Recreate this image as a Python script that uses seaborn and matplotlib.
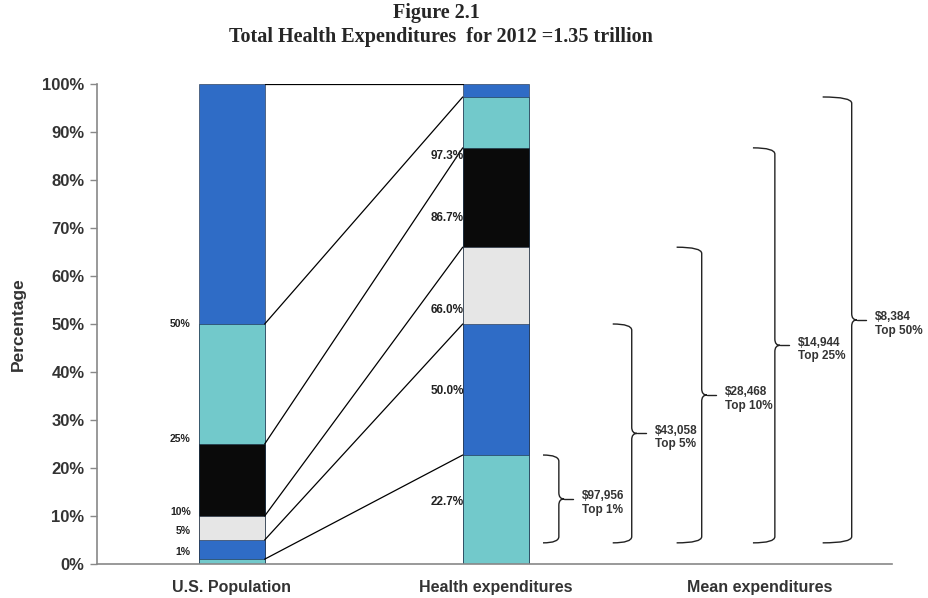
import matplotlib
matplotlib.use("Agg")
import matplotlib.pyplot as plt
from matplotlib.path import Path
from matplotlib.patches import PathPatch
import pandas as pd
import seaborn as sns

sns.set_style("white")
plt.rcParams['font.family'] = ['Liberation Sans', 'DejaVu Sans']

# Data
categories = ["U.S. Population", "Health expenditures", "Mean expenditures"]
# cumulative tops of each layer, drawn from the largest down
pop_levels = [100, 50, 25, 10, 5, 1]
health_levels = [100, 97.3, 86.7, 66.0, 50.0, 22.7]
layer_colors = ["#2f6cc6", "#72c9cb", "#0a0a0a", "#e6e6e6", "#2f6cc6", "#72c9cb"]

pop_labels = ["50%", "25%", "10%", "5%", "1%"]
health_labels = ["97.3%", "86.7%", "66.0%", "50.0%", "22.7%"]

mean_values = ["$97,956", "$43,058", "$28,468", "$14,944", "$8,384"]
top_groups = ["Top 1%", "Top 5%", "Top 10%", "Top 25%", "Top 50%"]
brace_tops = [22.7, 50.0, 66.0, 86.7, 97.3]
brace_bottom = 4.4

# layout
bar_w = 0.25
pop_label_y = [50, 26, 10.8, 6.9, 2.5]
health_label_y = [85, 72, 53, 36, 13]
brace_x = [1.239, 1.515, 1.78, 2.057, 2.348]
hook_w = [0.06, 0.072, 0.095, 0.083, 0.11]

fig = plt.figure(figsize=(9.29, 5.98), dpi=100)
ax = fig.add_axes([0.1044, 0.0569, 0.8556, 0.8026])

for i, col in enumerate(layer_colors):
    df = pd.DataFrame({"cat": categories[:2], "val": [pop_levels[i], health_levels[i]]})
    sns.barplot(data=df, x="cat", y="val", order=categories, color=col,
                width=bar_w, saturation=1, edgecolor="#1a2a40", linewidth=0.4, ax=ax)

# connectors between the two bars
x0 = 0 + bar_w / 2
x1 = 1 - bar_w / 2
for p, h in zip(pop_levels, health_levels):
    ax.plot([x0, x1], [p, h], color="black", lw=0.9)

for lab, y in zip(pop_labels, pop_label_y):
    ax.text(-0.155, y, lab, ha="right", va="center", fontsize=7.5,
            fontweight="bold", color="#222222")
for lab, y in zip(health_labels, health_label_y):
    ax.text(x1 + 0.005, y, lab, ha="right", va="center", fontsize=8.5,
            fontweight="bold", color="#222222")

# curly braces for mean expenditures
r = 1.3
tip = 0.055
for xv, hw, top, val, grp in zip(brace_x, hook_w, brace_tops, mean_values, top_groups):
    b = brace_bottom
    m = (top + b) / 2
    verts = [(xv - hw, top), (xv, top), (xv, top - r),
             (xv, m + r), (xv, m), (xv + 0.02, m),
             (xv, m), (xv, m - r),
             (xv, b + r), (xv, b), (xv - hw, b)]
    codes = [Path.MOVETO, Path.CURVE3, Path.CURVE3,
             Path.LINETO, Path.CURVE3, Path.CURVE3,
             Path.CURVE3, Path.CURVE3,
             Path.LINETO, Path.CURVE3, Path.CURVE3]
    ax.add_patch(PathPatch(Path(verts, codes), fill=False, lw=1.0, edgecolor="#222222"))
    ax.plot([xv + 0.02, xv + tip], [m, m], color="#222222", lw=1.0)
    ax.text(xv + 0.088, m + 1.8, f"{val}\n{grp}", ha="left", va="top",
            fontsize=8.5, fontweight="bold", color="#333333", linespacing=1.15)

ax.set_xlim(-0.51, 2.5)
ax.set_ylim(0, 100)
ax.set_yticks(range(0, 101, 10))
ax.set_yticklabels([f"{v}%" for v in range(0, 101, 10)], fontsize=12,
                   fontweight="bold", color="#333333")
ax.set_xticks(range(3))
ax.set_xticklabels(categories, fontsize=11.5, fontweight="bold", color="#333333")
ax.set_xlabel("")
ax.set_ylabel("Percentage", fontsize=12.5, fontweight="bold", color="#333333", labelpad=12)
ax.tick_params(axis="y", left=True, length=5, width=1, color="#888888", pad=4)
ax.tick_params(axis="x", bottom=False, pad=8)
for s in ["top", "right"]:
    ax.spines[s].set_visible(False)
for s in ["left", "bottom"]:
    ax.spines[s].set_color("#888888")
    ax.spines[s].set_linewidth(1.2)

fig.text(0.470, 0.978, "Figure 2.1", ha="center", va="center", fontsize=14.5,
         fontweight="bold", family="Liberation Serif")
fig.text(0.475, 0.938, "Total Health Expenditures  for 2012 =1.35 trillion", ha="center",
         va="center", fontsize=14.5, fontweight="bold", family="Liberation Serif")

fig.savefig("out.png", dpi=100)
